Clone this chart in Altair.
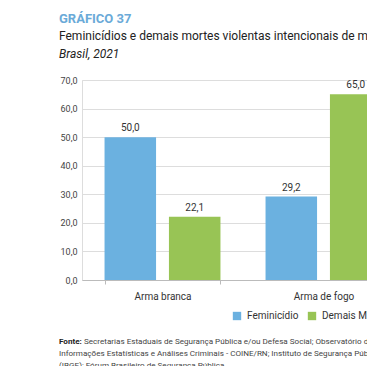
import altair as alt
import pandas as pd

categories = ["Arma branca", "Arma de fogo"]
series = ["Feminicídio", "Demais MVI de mulheres"]
feminicidio = [50.0, 29.2]
demais = [22.1, 65.0]
y_ticks = [0, 10, 20, 30, 40, 50, 60, 70]

title_txt = "GRÁFICO 37"
subtitle_txt = "Feminicídios e demais mortes violentas intencionais de mulheres, por tipo de instrumento empregado"
subtitle2_txt = "Brasil, 2021"
fonte_bold = "Fonte:"
fonte_l1 = "Secretarias Estaduais de Segurança Pública e/ou Defesa Social; Observatório de Análise Criminal / NAT / MPAC; Coordenadoria de"
fonte_l2 = "Informações Estatísticas e Análises Criminais - COINE/RN; Instituto de Segurança Pública/RJ (ISP); Instituto Brasileiro de Geografia e Estatística"
fonte_l3 = "(IBGE); Fórum Brasileiro de Segurança Pública."

rows = []
for i, c in enumerate(categories):
    rows.append({"cat": c, "serie": series[0], "v": feminicidio[i]})
    rows.append({"cat": c, "serie": series[1], "v": demais[i]})
df = pd.DataFrame(rows)
df["lab"] = df["v"].map(lambda v: f"{v:.1f}".replace(".", ","))

SANS = "Roboto"
BLUE = "#6BB1E0"
GREEN = "#98C455"

W_PLOT = 285
RANGE = 322

x_enc = alt.X("cat:N", sort=categories,
              scale=alt.Scale(range=[0, RANGE], paddingInner=0.28, paddingOuter=0.14),
              axis=alt.Axis(title=None, labelAngle=0, labelFont=SANS, labelFontSize=10,
                            labelColor="#333333", labelPadding=7, ticks=True, tickBand="extent",
                            tickSize=4, tickColor="#BBBBBB", domainColor="#BBBBBB", grid=False))
y_enc = alt.Y("v:Q", scale=alt.Scale(domain=[0, 70]),
              axis=alt.Axis(title=None, values=y_ticks, labelOverlap=False,
                            labelExpr="replace(format(datum.value, '.1f'), '.', ',')",
                            labelFont=SANS, labelFontSize=9, labelColor="#444444", labelPadding=5,
                            ticks=False, domain=False, gridColor="#DDDDDD"))
xoff = alt.XOffset("serie:N", sort=series, scale=alt.Scale(paddingInner=0.2, paddingOuter=0))
color = alt.Color("serie:N", sort=series,
                  scale=alt.Scale(domain=series, range=[BLUE, GREEN]),
                  legend=alt.Legend(title=None, orient="none", direction="horizontal",
                                    legendX=150, legendY=231, symbolType="square",
                                    symbolSize=70, symbolStrokeWidth=0, labelFont=SANS,
                                    labelFontSize=10, labelColor="#333333",
                                    columnPadding=8, labelOffset=5, padding=0))

base = alt.Chart(df)
bars = base.mark_bar().encode(x=x_enc, xOffset=xoff, y=y_enc, color=color)
labels = base.mark_text(dy=-4, baseline="bottom", font=SANS, fontSize=10, color="#333333").encode(
    x=x_enc, xOffset=xoff, y=y_enc, text="lab:N",
)

def txt(s, x, y, size, weight="normal", style="normal", col="#222222"):
    return alt.Chart(pd.DataFrame({"t": [s]})).mark_text(
        align="left", baseline="alphabetic", font=SANS, fontSize=size, fontWeight=weight,
        fontStyle=style, color=col
    ).encode(text="t:N", x=alt.value(x), y=alt.value(y))

t1 = txt(title_txt, -23, -57, 13, weight="bold", col="#6AAAD8")
t2 = txt(subtitle_txt, -23, -40, 12, col="#222222")
t3 = txt(subtitle2_txt, -23, -22, 12, style="italic", col="#222222")
f0 = txt(fonte_bold, -23, 264, 8.1, weight="bold", col="#222222")
f1 = txt(fonte_l1, 2, 264, 8.1, col="#444444")
f2 = txt(fonte_l2, -23, 276, 8.1, col="#444444")
f3 = txt(fonte_l3, -23, 288, 8.1, col="#444444")

chart = alt.layer(bars, labels, t1, t2, t3, f0, f1, f2, f3).properties(
    width=W_PLOT, height=200,
    autosize=alt.AutoSizeParams(type="none"),
    padding={"left": 74, "top": 72, "right": 0, "bottom": 86},
).configure_view(stroke=None).configure(background="white")

chart.save("out.html", embed_options={"renderer": "svg", "actions": False})
